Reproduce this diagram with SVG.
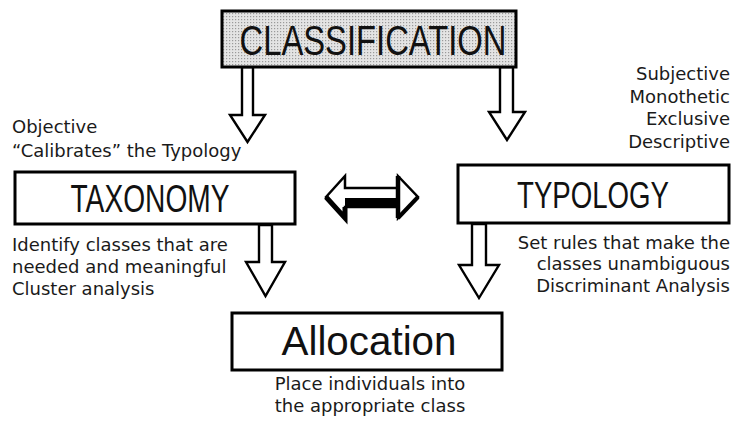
<svg xmlns="http://www.w3.org/2000/svg" width="743" height="421" viewBox="0 0 743 421">
  <defs>
    <!-- halftone screen used for the top box -->
    <pattern id="screen" width="3" height="3" patternUnits="userSpaceOnUse">
      <rect width="3" height="3" fill="#e4e4e4"/>
      <rect x="1" y="1" width="1.2" height="1.2" fill="#9a9a9a"/>
    </pattern>
  </defs>
  <style>
    .box { fill: #ffffff; stroke: #000000; stroke-width: 3; }
    .title { font-family: "Liberation Sans", Arial, sans-serif; fill: #111111; text-anchor: middle; }
    .note { font-family: "DejaVu Sans", "Liberation Sans", sans-serif; font-size: 18px; fill: #1a1a1a; }
    .arrow { fill: #ffffff; stroke: #000000; stroke-width: 2.4; stroke-linejoin: miter; }
  </style>
  <rect width="743" height="421" fill="#ffffff"/>

  <!-- connectors -->
  <g id="connectors">
    <!-- CLASSIFICATION to TAXONOMY -->
    <polygon class="arrow" points="242,67 242,115 230,115 247.5,142 265,115 253,115 253,67"/>
    <!-- CLASSIFICATION to TYPOLOGY -->
    <polygon class="arrow" points="500,67 500,112 489,112 507,140 525,112 513,112 513,67"/>
    <!-- TAXONOMY to Allocation -->
    <polygon class="arrow" points="259,225 259,262 246,262 265.5,296 285,262 272,262 272,225"/>
    <!-- TYPOLOGY to Allocation -->
    <polygon class="arrow" points="472,224 472,265 459,265 479,298 499,265 486,265 486,224"/>
    <!-- TAXONOMY <-> TYPOLOGY -->
    <g id="double-arrow">
      <polygon points="326,197 345,176 345,188 398,188 398,176 418,197 398,218 398,207 345,207 345,218" fill="#ffffff" stroke="#000000" stroke-width="2.5" stroke-linejoin="miter"/>
      <rect x="345" y="198" width="53" height="9.5" fill="#000000"/>
      <polyline points="326,197 345,218 345,207" fill="none" stroke="#000000" stroke-width="5"/>
      <line x1="398" y1="176" x2="398" y2="218" stroke="#000000" stroke-width="4.5"/>
      <line x1="398" y1="218" x2="418" y2="197" stroke="#000000" stroke-width="4"/>
    </g>
  </g>

  <!-- CLASSIFICATION -->
  <g id="classification">
    <rect x="222" y="11" width="294" height="56" fill="url(#screen)" stroke="#000000" stroke-width="3"/>
    <text class="title" x="373" y="55" font-size="42" textLength="267" lengthAdjust="spacingAndGlyphs">CLASSIFICATION</text>
  </g>

  <!-- typology attributes -->
  <g id="typology-notes" class="note" text-anchor="end">
    <text x="730" y="80">Subjective</text>
    <text x="730" y="103">Monothetic</text>
    <text x="730" y="125">Exclusive</text>
    <text x="730" y="148">Descriptive</text>
  </g>

  <!-- taxonomy attributes -->
  <g id="taxonomy-notes" class="note">
    <text x="12" y="133">Objective</text>
    <text x="12" y="157">“Calibrates” the Typology</text>
  </g>

  <!-- TAXONOMY -->
  <g id="taxonomy">
    <rect class="box" x="15" y="172" width="280" height="52"/>
    <text class="title" x="150" y="212" font-size="38" textLength="159" lengthAdjust="spacingAndGlyphs">TAXONOMY</text>
  </g>
  <g id="taxonomy-desc" class="note">
    <text x="12" y="251">Identify classes that are</text>
    <text x="12" y="273">needed and meaningful</text>
    <text x="12" y="295">Cluster analysis</text>
  </g>

  <!-- TYPOLOGY -->
  <g id="typology">
    <rect class="box" x="458" y="165" width="271" height="58"/>
    <text class="title" x="593" y="208" font-size="36" textLength="152" lengthAdjust="spacingAndGlyphs">TYPOLOGY</text>
  </g>
  <g id="typology-desc" class="note" text-anchor="end">
    <text x="730" y="249">Set rules that make the</text>
    <text x="730" y="270">classes unambiguous</text>
    <text x="730" y="292">Discriminant Analysis</text>
  </g>

  <!-- Allocation -->
  <g id="allocation">
    <rect class="box" x="232" y="313" width="270" height="57"/>
    <text class="title" x="369" y="355" font-size="41" textLength="175" lengthAdjust="spacingAndGlyphs">Allocation</text>
  </g>
  <g id="allocation-desc" class="note" text-anchor="middle">
    <text x="370" y="390">Place individuals into</text>
    <text x="370" y="412">the appropriate class</text>
  </g>
</svg>
